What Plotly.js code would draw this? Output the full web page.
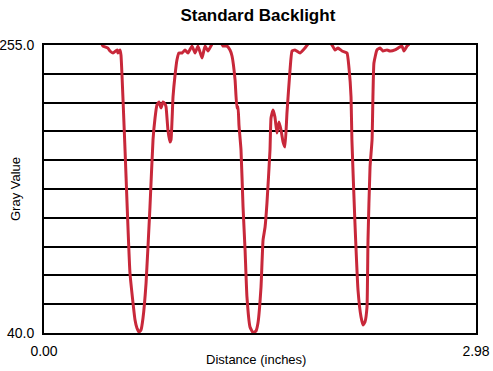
<!DOCTYPE html>
<html>
<head>
<meta charset="utf-8">
<script src="https://cdn.plot.ly/plotly-3.0.1.min.js"></script>
<style>html,body{margin:0;padding:0;background:#fff;}#chart{width:493px;height:371px;}</style>
</head>
<body>
<div id="chart"></div>
<script>
// Distance along the scan line (inches)
const distance = [0.393,0.407,0.441,0.455,0.476,0.504,0.510,0.524,0.531,0.559,0.593,0.628,0.641,0.655,0.669,0.683,0.704,0.731,0.752,0.766,0.779,0.793,0.807,0.821,0.835,0.842,0.855,0.869,0.876,0.890,0.904,0.917,0.931,0.952,0.973,0.993,1.021,1.042,1.062,1.090,1.111,1.131,1.159,1.180,1.214,1.235,1.262,1.283,1.297,1.318,1.331,1.338,1.345,1.359,1.373,1.387,1.400,1.421,1.442,1.462,1.476,1.497,1.511,1.525,1.538,1.559,1.566,1.580,1.593,1.607,1.621,1.635,1.649,1.662,1.676,1.697,1.711,1.731,1.766,1.800,1.821,1.849,1.959,1.987,2.007,2.028,2.056,2.090,2.104,2.118,2.124,2.145,2.166,2.187,2.201,2.214,2.228,2.235,2.249,2.263,2.269,2.276,2.297,2.318,2.338,2.366,2.387,2.421,2.442,2.469,2.483,2.504,2.518];
// Gray value measured
const grayValue = [257.2,254.2,252.7,250.5,249.0,251.3,249.0,251.3,247.5,176.6,84.8,49.7,43.7,40.7,42.2,51.2,77.3,134.1,184.1,200.5,210.2,212.4,208.0,212.4,210.9,208.7,191.5,182.6,184.1,216.2,232.6,243.8,249.0,249.0,251.3,249.0,254.2,249.0,254.2,245.3,254.2,250.5,255.7,257.9,257.9,254.2,254.2,251.3,246.8,228.9,208.0,209.0,195.0,176.6,134.1,102.0,66.9,44.5,40.3,41.5,47.5,74.3,109.4,119.1,137.0,176.6,200.5,206.5,201.2,189.3,197.5,191.5,182.6,178.8,204.2,236.3,250.5,251.3,249.0,252.7,255.7,257.9,257.9,255.0,251.3,252.7,250.5,249.0,237.8,216.2,184.1,122.1,72.1,51.9,46.0,48.2,59.4,109.4,163.9,184.1,216.2,241.6,251.3,252.7,250.5,251.3,250.5,251.3,252.7,254.2,250.5,254.2,255.7];

const yMin = 40.0, yMax = 255.0, xMax = 2.98;
const gridCount = 10;
const yTickVals = [];
for (let k = 0; k <= gridCount; k++) yTickVals.push(yMin + (yMax - yMin) * k / gridCount);
const yTickText = yTickVals.map((v, i) => (i === 0 || i === gridCount) ? v.toFixed(1) : "");
const xTickVals = [0, xMax];
const xTickText = ["0.00", "2.98"];

const FONT = "'Liberation Sans',Arial,sans-serif";

const trace = {
  x: distance, y: grayValue, type: "scatter", mode: "lines",
  line: {color: "#c8283a", width: 3, shape: "spline", smoothing: 0.4},
  hoverinfo: "skip"
};

const layout = {
  width: 493, height: 371,
  margin: {l: 44, r: 17, t: 45, b: 38},
  paper_bgcolor: "#fff", plot_bgcolor: "#fff",
  showlegend: false,
  font: {family: FONT, color: "#000", size: 14},
  title: {text: "<b>Standard Backlight</b>", font: {family: FONT, size: 17, color: "#000"}, x: 0.523, xanchor: "center", y: 0.96, yanchor: "middle"},
  xaxis: {
    range: [0, xMax], tickvals: xTickVals, ticktext: xTickText,
    showgrid: false, zeroline: false, ticks: "",
    showline: true, mirror: true, linecolor: "#000", linewidth: 2,
    tickfont: {family: FONT, size: 14, color: "#000"}, ticklabelstandoff: 4
  },
  yaxis: {
    range: [yMin, yMax], tickvals: yTickVals, ticktext: yTickText,
    showgrid: true, gridcolor: "#000", gridwidth: 2, zeroline: false, ticks: "",
    showline: true, mirror: true, linecolor: "#000", linewidth: 2,
    tickfont: {family: FONT, size: 14, color: "#000"}, ticklabelstandoff: 5
  },
  annotations: [
    {text: "Distance (inches)", xref: "paper", yref: "paper", x: 0.49, y: 0, yshift: -26, xanchor: "center", yanchor: "middle", showarrow: false, font: {family: FONT, size: 13, color: "#000"}},
    {text: "Gray Value", xref: "paper", yref: "paper", x: 0, xshift: -29, y: 0.5, xanchor: "center", yanchor: "middle", textangle: -90, showarrow: false, font: {family: FONT, size: 13, color: "#000"}}
  ]
};

Plotly.newPlot("chart", [trace], layout, {displayModeBar: false, staticPlot: true});
</script>
</body>
</html>
